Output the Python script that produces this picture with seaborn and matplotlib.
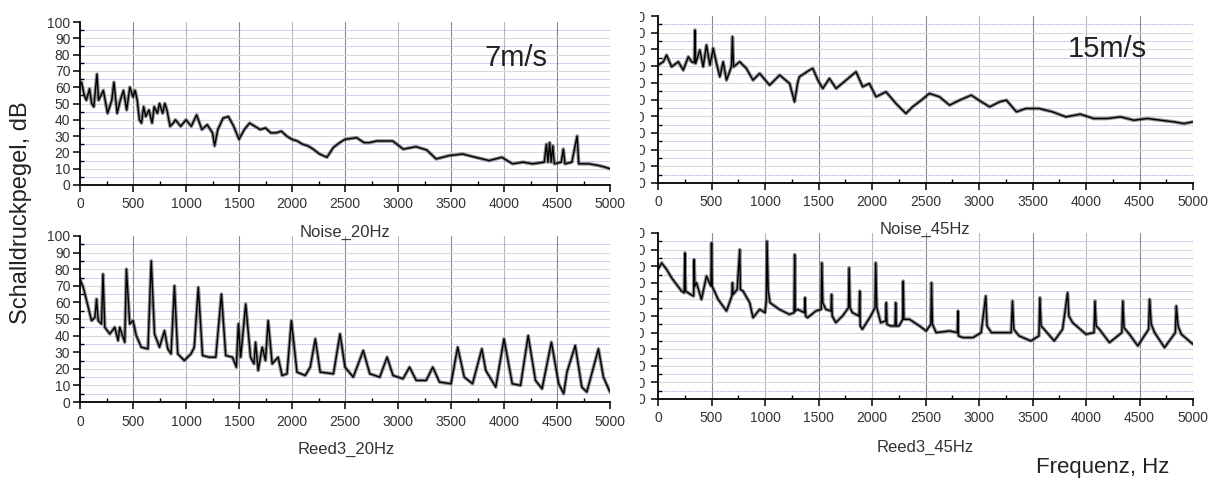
import matplotlib
matplotlib.use("Agg")
import matplotlib.pyplot as plt
from matplotlib.patches import Rectangle
from matplotlib.ticker import MultipleLocator
import seaborn as sns

sns.set_theme(style="white")
plt.rcParams["font.family"] = ["Liberation Sans", "DejaVu Sans"]

# ── Data (Hz / dB) ───────────────────────────────────────────────────────────
noise20_f = [0, 15, 40, 60, 90, 110, 130, 160, 175, 190, 220, 260, 300, 320, 350, 380,
             410, 440, 470, 500, 520, 540, 560, 580, 600, 620, 650, 680, 700, 730, 750,
             780, 800, 820, 850, 880, 900, 950, 1000, 1050, 1100, 1150, 1200, 1250, 1270,
             1300, 1350, 1400, 1450, 1500, 1550, 1600, 1650, 1700, 1750, 1800, 1850, 1900,
             1950, 2000, 2050, 2100, 2150, 2200, 2260, 2330, 2390, 2450, 2500, 2610, 2680,
             2730, 2800, 2860, 2950, 3050, 3170, 3270, 3360, 3480, 3610, 3730, 3860, 3980,
             4080, 4180, 4270, 4380, 4400, 4415, 4430, 4445, 4460, 4475, 4540, 4560, 4575,
             4640, 4690, 4705, 4800, 4890, 4950, 5000]
noise20_db = [62, 63, 55, 52, 59, 50, 48, 68, 52, 54, 58, 44, 52, 63, 44, 52,
              58, 46, 60, 54, 58, 52, 40, 38, 48, 42, 46, 38, 48, 44, 50,
              44, 50, 46, 36, 38, 40, 36, 40, 36, 43, 34, 37, 32, 24,
              34, 41, 42, 36, 28, 34, 38, 36, 34, 35, 32, 32, 33,
              30, 28, 27, 25, 24, 22, 19, 17, 23, 26, 28, 29, 26,
              26, 27, 27, 27, 22, 23.5, 21.5, 16, 18, 19, 17, 15, 17,
              13, 14, 13, 14, 25, 14, 26, 14, 24, 13, 14, 22, 13,
              14, 30, 13, 13, 12, 11, 10]

noise45_f = [0, 50, 80, 127, 190, 236, 283, 314, 340, 345, 352, 391, 422, 453, 485, 516,
             547, 578, 609, 640, 686, 696, 706, 764, 826, 888, 950, 1043, 1137, 1230,
             1276, 1307, 1322, 1416, 1447, 1494, 1540, 1602, 1665, 1758, 1851, 1913, 1975,
             2038, 2131, 2224, 2317, 2379, 2441, 2537, 2631, 2725, 2819, 2928, 3022, 3100,
             3193, 3256, 3350, 3437, 3562, 3687, 3812, 3947, 4072, 4197, 4322, 4447, 4572,
             4697, 4822, 4915, 5000]
noise45_db = [70.6, 72.6, 76.6, 69.6, 72.6, 67.6, 75.6, 72.6, 72, 91.6, 71.6, 79.6, 69.6,
              82.6, 70.6, 80.6, 71.6, 63.6, 72.6, 61.6, 69.6, 87.6, 69.6, 72.6, 68.6, 61.6,
              65.6, 58.6, 64.6, 59.6, 48.6, 60.6, 63.6, 67.6, 68.6, 61.6, 56.6, 62.6, 56.6,
              61.6, 66.6, 57.6, 59.6, 51.6, 54.6, 47.6, 41.6, 45.6, 48.6, 53.6, 51.6, 46.6,
              49.6, 52.6, 48.6, 45.6, 48.6, 49.6, 42.6, 44.6, 44.6, 42.6, 39.6, 41.2, 38.6,
              38.6, 39.6, 37.6, 38.6, 37.6, 36.6, 35.6, 36.6]

reed20_f = [0, 31, 78, 109, 141, 156, 172, 203, 217, 234, 281, 328, 359, 375, 422, 438,
            469, 500, 531, 578, 641, 672, 703, 750, 797, 828, 859, 891, 922, 984, 1047,
            1078, 1116, 1156, 1219, 1281, 1334, 1375, 1438, 1475, 1494, 1516, 1563, 1609,
            1641, 1656, 1681, 1719, 1750, 1775, 1813, 1869, 1906, 1953, 1994, 2047, 2125,
            2172, 2220, 2266, 2391, 2453, 2500, 2578, 2672, 2734, 2828, 2897, 2953, 3047,
            3109, 3172, 3266, 3328, 3391, 3500, 3563, 3625, 3703, 3791, 3828, 3922, 4000,
            4078, 4156, 4228, 4297, 4359, 4447, 4516, 4563, 4594, 4672, 4734, 4781, 4891,
            4938, 5000]
reed20_db = [74, 69, 57, 49, 51, 62, 49, 47, 77, 45, 41, 45, 37, 45, 36, 80,
             47, 49, 40, 33, 32, 85, 41, 33, 43, 32, 29, 70, 29, 25, 29,
             33, 69, 28, 27, 27, 65, 28, 27, 21, 47, 27, 59, 27,
             23, 36, 19, 33, 25, 49, 23, 27, 16, 17, 49, 18, 16,
             21, 38, 18, 17, 41, 21, 15, 31, 17, 15, 27, 16, 14,
             21, 13, 13, 21, 12, 11, 33, 15, 11, 32, 19, 9, 38,
             11, 10, 40, 13, 8, 36, 11, 5, 18, 34, 9, 6, 32,
             15, 6]

reed45_f = [0, 34, 81, 127, 174, 220, 245, 251, 258, 304, 333, 338, 344, 360, 406, 453,
            495, 500, 506, 562, 640, 690, 696, 702, 740, 764, 770, 795, 857, 888, 950,
            1000, 1013, 1019, 1030, 1047, 1134, 1227, 1272, 1277, 1283, 1305, 1368, 1374,
            1380, 1398, 1475, 1525, 1531, 1540, 1569, 1617, 1622, 1628, 1662, 1724, 1780,
            1786, 1795, 1817, 1880, 1885, 1890, 1910, 1988, 2028, 2034, 2045, 2081, 2128,
            2134, 2140, 2174, 2216, 2221, 2227, 2252, 2287, 2292, 2298, 2350, 2444, 2506,
            2550, 2556, 2565, 2600, 2725, 2798, 2803, 2808, 2850, 2944, 3020, 3063, 3075,
            3116, 3225, 3300, 3313, 3325, 3375, 3484, 3560, 3569, 3580, 3609, 3703, 3781,
            3828, 3840, 3875, 4000, 4075, 4084, 4095, 4125, 4219, 4335, 4344, 4355, 4406,
            4484, 4585, 4594, 4610, 4641, 4734, 4835, 4844, 4860, 4891, 5000]
reed45_db = [78, 82, 78, 73, 69, 65, 64, 88, 65, 63, 62, 84, 68, 70, 60, 74,
             68, 94, 68, 60, 53, 62, 70, 63, 66, 90, 66, 65, 58, 49, 54,
             52, 60, 95, 65, 58, 54, 51, 52, 87, 53, 54, 52, 61,
             50, 49, 53, 54, 82, 58, 54, 53, 63, 50, 46, 50, 55,
             79, 55, 52, 50, 65, 44, 42, 50, 55, 82, 55, 46, 47,
             58, 45, 44, 44, 58, 44, 44, 48, 71, 48, 48, 44, 41,
             45, 70, 45, 40, 41, 40, 53, 38, 37, 37, 40, 62, 44,
             40, 40, 40, 59, 42, 38, 35, 38, 61, 44, 42, 35, 42,
             64, 50, 46, 39, 40, 59, 44, 42, 34, 40, 59, 43, 39,
             32, 42, 60, 45, 40, 31, 40, 56, 44, 39, 33]

W, H = 1215, 479
fig = plt.figure(figsize=(W / 100, H / 100), dpi=100)


def px_axes(left, top, right, bottom):
    return fig.add_axes([left / W, 1 - bottom / H, (right - left) / W, (bottom - top) / H])


panels = [
    (noise20_f, noise20_db, (80, 22, 610, 185), False),
    (noise45_f, noise45_db, (658, 16, 1193, 183), True),
    (reed20_f, reed20_db, (80, 236, 610, 402), False),
    (reed45_f, reed45_db, (658, 233, 1193, 399), True),
]

for f, db, box, right in panels:
    ax = px_axes(*box)
    # grid: grey verticals, light grey solid / blue dotted horizontals
    for v in range(500, 5000, 500):
        ax.axvline(v, color="#8c8c8c" if v % 1000 else "#b8b8b8", lw=0.8, zorder=0)
    for v in range(10, 100, 10):
        ax.axhline(v, color="#dadada", lw=0.8, ls="-", zorder=0)
    for v in range(5, 100, 10):
        ax.axhline(v, color="#a8a8e6", lw=0.6, ls=(0, (2, 1.2)), zorder=0)

    # fuzzy band + core line, like the original noisy trace
    sns.lineplot(x=f, y=db, ax=ax, color="#333333", lw=2.6, alpha=0.55,
                 estimator=None, sort=False)
    sns.lineplot(x=f, y=db, ax=ax, color="black", lw=1.0, estimator=None, sort=False)

    ax.set_xlim(0, 5000)
    ax.set_ylim(0, 100)
    ax.xaxis.set_major_locator(MultipleLocator(500))
    ax.xaxis.set_minor_locator(MultipleLocator(250))
    ax.yaxis.set_major_locator(MultipleLocator(10))
    ax.yaxis.set_minor_locator(MultipleLocator(5))
    ax.set_xlabel(""); ax.set_ylabel("")
    for s in ("top", "right"):
        ax.spines[s].set_visible(False)
    for s in ("left", "bottom"):
        ax.spines[s].set_color("black")
        ax.spines[s].set_linewidth(1.3)
    ax.tick_params(which="major", direction="out", length=5, width=1.1, labelsize=10,
                   colors="black", pad=2, bottom=True, left=True)
    ax.tick_params(which="minor", direction="in", length=3, width=1, color="black",
                   bottom=True, left=True)
    ax.tick_params(axis="x", which="major", labelcolor="#333333", pad=4)
    ax.tick_params(axis="y", which="major", labelcolor="#333333", pad=4 if right else 2)

# right-hand panels: their y tick labels are cropped in the source image
for y0, y1 in [(4, 190), (224, 408)]:
    fig.add_artist(Rectangle((612 / W, 1 - y1 / H), 28 / W, (y1 - y0) / H,
                             transform=fig.transFigure, facecolor="white",
                             edgecolor="none", zorder=5))

fig.text(345 / W, 1 - 232 / H, "Noise_20Hz", ha="center", va="center", fontsize=12, color="#333333")
fig.text(346 / W, 1 - 449 / H, "Reed3_20Hz", ha="center", va="center", fontsize=12, color="#333333")
fig.text(925 / W, 1 - 229 / H, "Noise_45Hz", ha="center", va="center", fontsize=12, color="#333333")
fig.text(925 / W, 1 - 447 / H, "Reed3_45Hz", ha="center", va="center", fontsize=12, color="#333333")
fig.text(1103 / W, 1 - 468 / H, "Frequenz, Hz", ha="center", va="center", fontsize=16, color="#222222")
fig.text(21 / W, 1 - 213 / H, "Schalldruckpegel, dB", ha="center", va="center", rotation=90,
         fontsize=17, color="#222222")
fig.text(516 / W, 1 - 58 / H, "7m/s", ha="center", va="center", fontsize=21, color="#222222")
fig.text(1107 / W, 1 - 49 / H, "15m/s", ha="center", va="center", fontsize=21, color="#222222")

fig.savefig("out.png", dpi=100, facecolor="white")
